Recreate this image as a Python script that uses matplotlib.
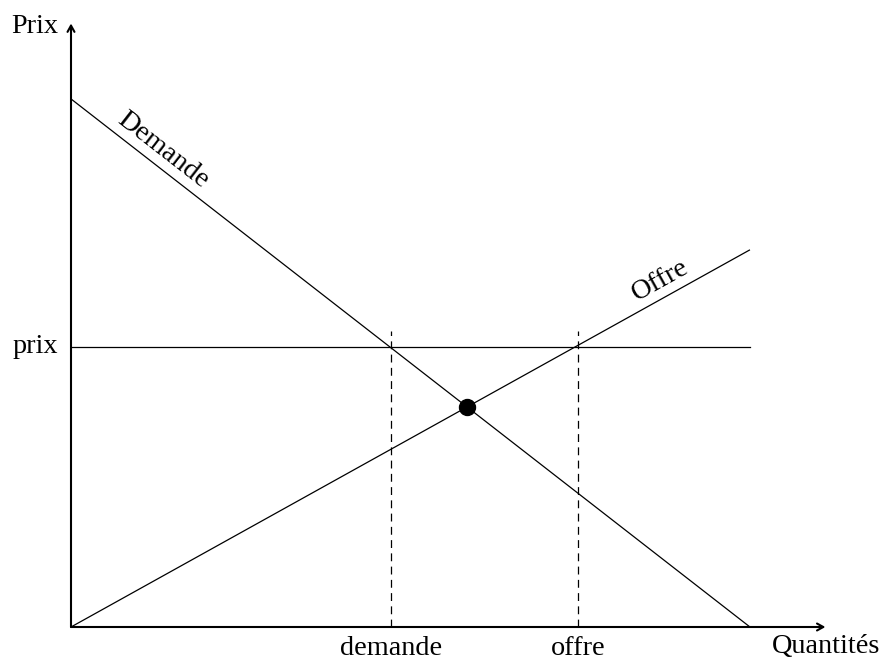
import numpy as np
import matplotlib
matplotlib.use("Agg")
import matplotlib.pyplot as plt

plt.rcParams['font.family'] = ['Liberation Serif', 'DejaVu Serif']

# ---- data ----
demand_x = [0, 9]
demand_y = [7, 0]
supply_x = [0, 9]
supply_y = [0, 5]
price = 3.71
price_x = [0, 9]
qty_demand = 4.24
qty_supply = 6.72
dash_top = 3.92
equilibrium = (5.25, 2.92)
x_axis_max = 10
y_axis_max = 8
axis_labels = {"x": "Quantités", "y": "Prix"}
tick_labels = {"price": "prix", "demand": "demande", "supply": "offre"}
curve_labels = {"demand": "Demande", "supply": "Offre"}

# ---- figure ----
W, H, DPI = 888, 668, 100
fig = plt.figure(figsize=(W / DPI, H / DPI), dpi=DPI)
ax = fig.add_axes([0, 0, 1, 1])
unit = 75.44  # pixels per data unit
ox, oy = 71, 668 - 627
ax.set_xlim(-ox / unit, (W - ox) / unit)
ax.set_ylim(-oy / unit, (H - oy) / unit)
ax.axis('off')

FS = 20.3
lw_thin = 0.9

# axes arrows
arrow_style = dict(arrowstyle='->,head_length=0.45,head_width=0.25', lw=1.5,
                   color='black', shrinkA=0, shrinkB=0)
ax.annotate('', xy=(x_axis_max, 0), xytext=(0, 0), arrowprops=arrow_style)
ax.annotate('', xy=(0, y_axis_max), xytext=(0, 0), arrowprops=arrow_style)

# curves
ax.plot(demand_x, demand_y, color='black', lw=lw_thin, solid_capstyle='butt')
ax.plot(supply_x, supply_y, color='black', lw=lw_thin, solid_capstyle='butt')
ax.plot(price_x, [price, price], color='black', lw=lw_thin)
for q in (qty_demand, qty_supply):
    ax.plot([q, q], [0, dash_top], color='black', lw=lw_thin, dashes=(6.3, 4.3))

ax.plot([equilibrium[0]], [equilibrium[1]], 'o', color='black', markersize=11.5)

# axis labels
ax.annotate(axis_labels["y"], xy=(0, y_axis_max), xytext=(-9.4, -7),
            textcoords='offset points', ha='right', va='baseline', fontsize=FS)
ax.annotate(axis_labels["x"], xy=(x_axis_max, 0), xytext=(0.5, -18.7),
            textcoords='offset points', ha='center', va='baseline', fontsize=FS)
ax.annotate(tick_labels["price"], xy=(0, price), xytext=(-9.4, -4.5),
            textcoords='offset points', ha='right', va='baseline', fontsize=FS)
ax.annotate(tick_labels["demand"], xy=(qty_demand, 0), xytext=(0, -20.2),
            textcoords='offset points', ha='center', va='baseline', fontsize=FS)
ax.annotate(tick_labels["supply"], xy=(qty_supply, 0), xytext=(0, -20.2),
            textcoords='offset points', ha='center', va='baseline', fontsize=FS)

# curve labels rotated along lines
def along(xs, ys, xa, off_pt, label):
    slope = (ys[1] - ys[0]) / (xs[1] - xs[0])
    ya = ys[0] + slope * (xa - xs[0])
    ang = np.degrees(np.arctan(slope))
    n = np.array([-np.sin(np.radians(ang)), np.cos(np.radians(ang))])
    ax.annotate(label, xy=(xa, ya), xytext=tuple(n * off_pt),
                textcoords='offset points', ha='center', va='baseline',
                rotation=ang, rotation_mode='anchor', fontsize=FS)

along(demand_x, demand_y, 1.09, 6.5, curve_labels["demand"])
along(supply_x, supply_y, 7.92, 7.5, curve_labels["supply"])

fig.savefig('out.png', dpi=DPI)
